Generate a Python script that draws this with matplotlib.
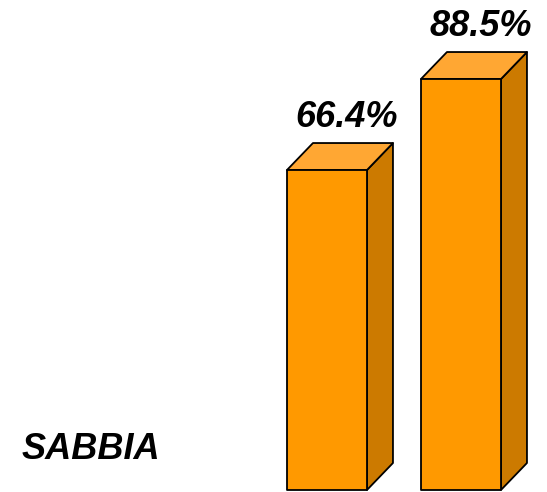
import matplotlib
matplotlib.use("Agg")
import matplotlib.pyplot as plt

# Data
categories = ["A", "B"]
values = [66.4, 88.5]
labels = ["66.4%", "88.5%"]
group_label = "SABBIA"

# Style
front_color = "#FF9900"
top_color = "#FFA733"
side_color = "#CC7A00"
edge_color = "#000000"
axis_min = -11.3  # value at which bars start (baseline of the chart)

W, H, DPI = 547, 492, 100
fig = plt.figure(figsize=(W / DPI, H / DPI), dpi=DPI)
ax = fig.add_axes([0, 0, 1, 1])
ax.set_xlim(-2.44, -2.44 + W / 134.0)
px_per_unit = 4.118
ybot = axis_min - 2 / px_per_unit
ax.set_ylim(ybot, ybot + H / px_per_unit)
ax.axis("off")

bar_w = 80 / 134.0
dx = 26 / 134.0
dy = 27 / px_per_unit
lw = 1.3

for i, v in enumerate(values):
    x0 = i - bar_w / 2
    x1 = i + bar_w / 2
    b = axis_min
    # side
    ax.fill([x1, x1 + dx, x1 + dx, x1], [b, b + dy, v + dy, v],
            facecolor=side_color, edgecolor=edge_color, linewidth=lw, joinstyle="round")
    # top
    ax.fill([x0, x1, x1 + dx, x0 + dx], [v, v, v + dy, v + dy],
            facecolor=top_color, edgecolor=edge_color, linewidth=lw, joinstyle="round")
    # front
    ax.fill([x0, x1, x1, x0], [b, b, v, v],
            facecolor=front_color, edgecolor=edge_color, linewidth=lw, joinstyle="round")
    ax.annotate(labels[i], xy=(i + 0.15, v + dy), xytext=(0, 11.5),
                textcoords="offset points", ha="center", va="baseline",
                fontsize=26, fontweight="bold", fontstyle="italic",
                family="Liberation Sans", color="black")

fig.text(22 / W, (H - 459) / H, group_label, ha="left", va="baseline",
         fontsize=26, fontweight="bold", fontstyle="italic",
         family="Liberation Sans", color="black")

fig.savefig("out.png", dpi=DPI, facecolor="white")
